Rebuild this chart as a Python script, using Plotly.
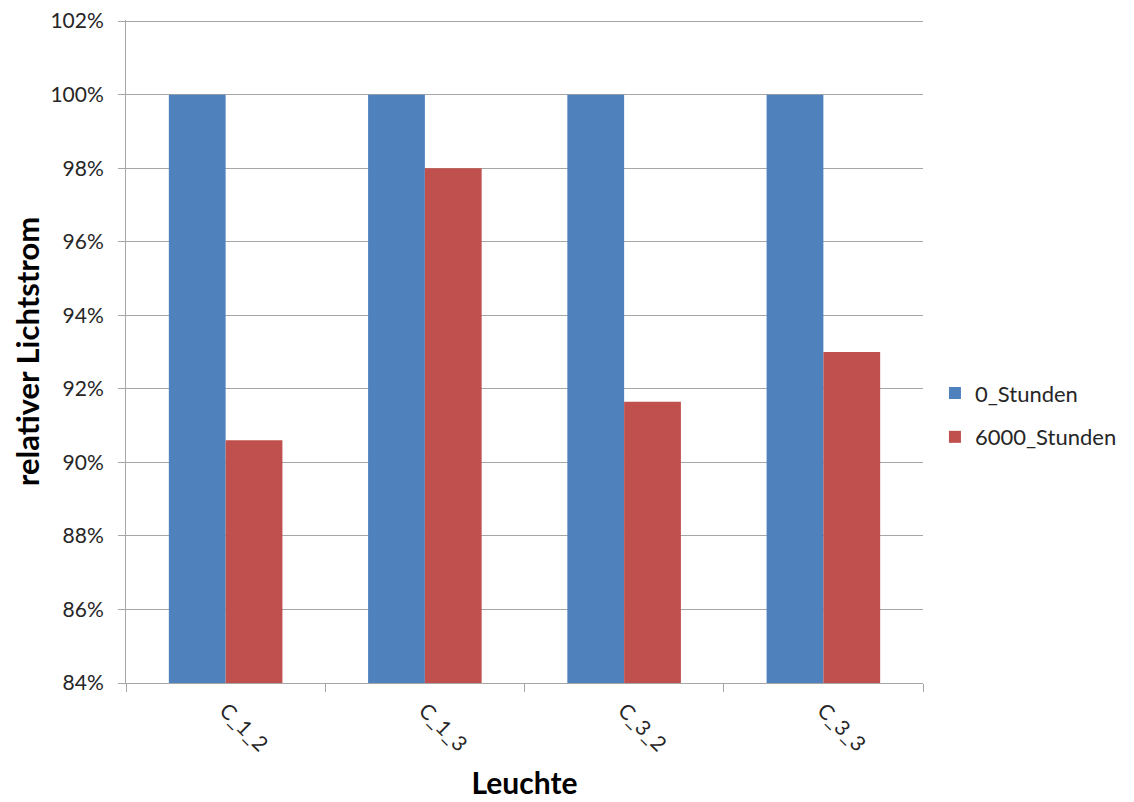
import plotly.graph_objects as go

categories = ["C_1_2", "C_1_3", "C_3_2", "C_3_3"]
series_names = ["0_Stunden", "6000_Stunden"]
values_0h = [100.0, 100.0, 100.0, 100.0]
values_6000h = [90.6, 98.0, 91.65, 93.0]
y_ticks = [84, 86, 88, 90, 92, 94, 96, 98, 100, 102]

FONT = "Lato, 'Liberation Sans', sans-serif"
GRID = "#a6a6a6"
TXT = "#262626"

fig = go.Figure()
fig.add_trace(go.Bar(x=categories, y=values_0h, name=series_names[0], legend="legend",
                     marker=dict(color="#4f81bd", line=dict(width=0))))
fig.add_trace(go.Bar(x=categories, y=values_6000h, name=series_names[1], legend="legend2",
                     marker=dict(color="#c0504d", line=dict(width=0))))

leg_common = dict(xanchor="left", yanchor="middle", x=1.015,
                  font=dict(family=FONT, size=22, color=TXT),
                  itemwidth=30, bgcolor="rgba(0,0,0,0)")

# page body has an 8px margin, so the figure is shifted by 8px right/down
fig.update_layout(
    width=1134, height=802,
    paper_bgcolor="white", plot_bgcolor="white",
    margin=dict(l=118, r=219, t=12, b=127, autoexpand=False),
    barmode="group", bargap=0.43, bargroupgap=0,
    font=dict(family=FONT, size=21, color=TXT),
    showlegend=True,
    legend=dict(y=0.437, **leg_common),
    legend2=dict(y=0.371, **leg_common),
)
fig.update_yaxes(
    range=[84, 102.03], tickvals=y_ticks, ticktext=[f"{v}%" for v in y_ticks],
    automargin=False, ticklabeloverflow="allow",
    showgrid=True, gridcolor=GRID, gridwidth=1,
    showline=True, linecolor=GRID, linewidth=1,
    ticks="outside", ticklen=7, tickcolor=GRID,
    tickfont=dict(family=FONT, size=21, color=TXT),
    ticklabelstandoff=10,
    zeroline=False,
    title=dict(text="<b>relativer Lichtstrom</b>", font=dict(family=FONT, size=31, color="black"), standoff=4),
)
fig.update_xaxes(
    automargin=False,
    showline=True, linecolor=GRID, linewidth=1,
    ticks="outside", ticklen=8, tickcolor=GRID, tickson="boundaries",
    tickangle=45, tickfont=dict(family=FONT, size=21, color=TXT),
    ticklabelstandoff=6,
    showgrid=False,
    title=dict(text="<b>Leuchte</b>", font=dict(family=FONT, size=30, color="black"), standoff=18),
)

fig.write_html("out.html")
